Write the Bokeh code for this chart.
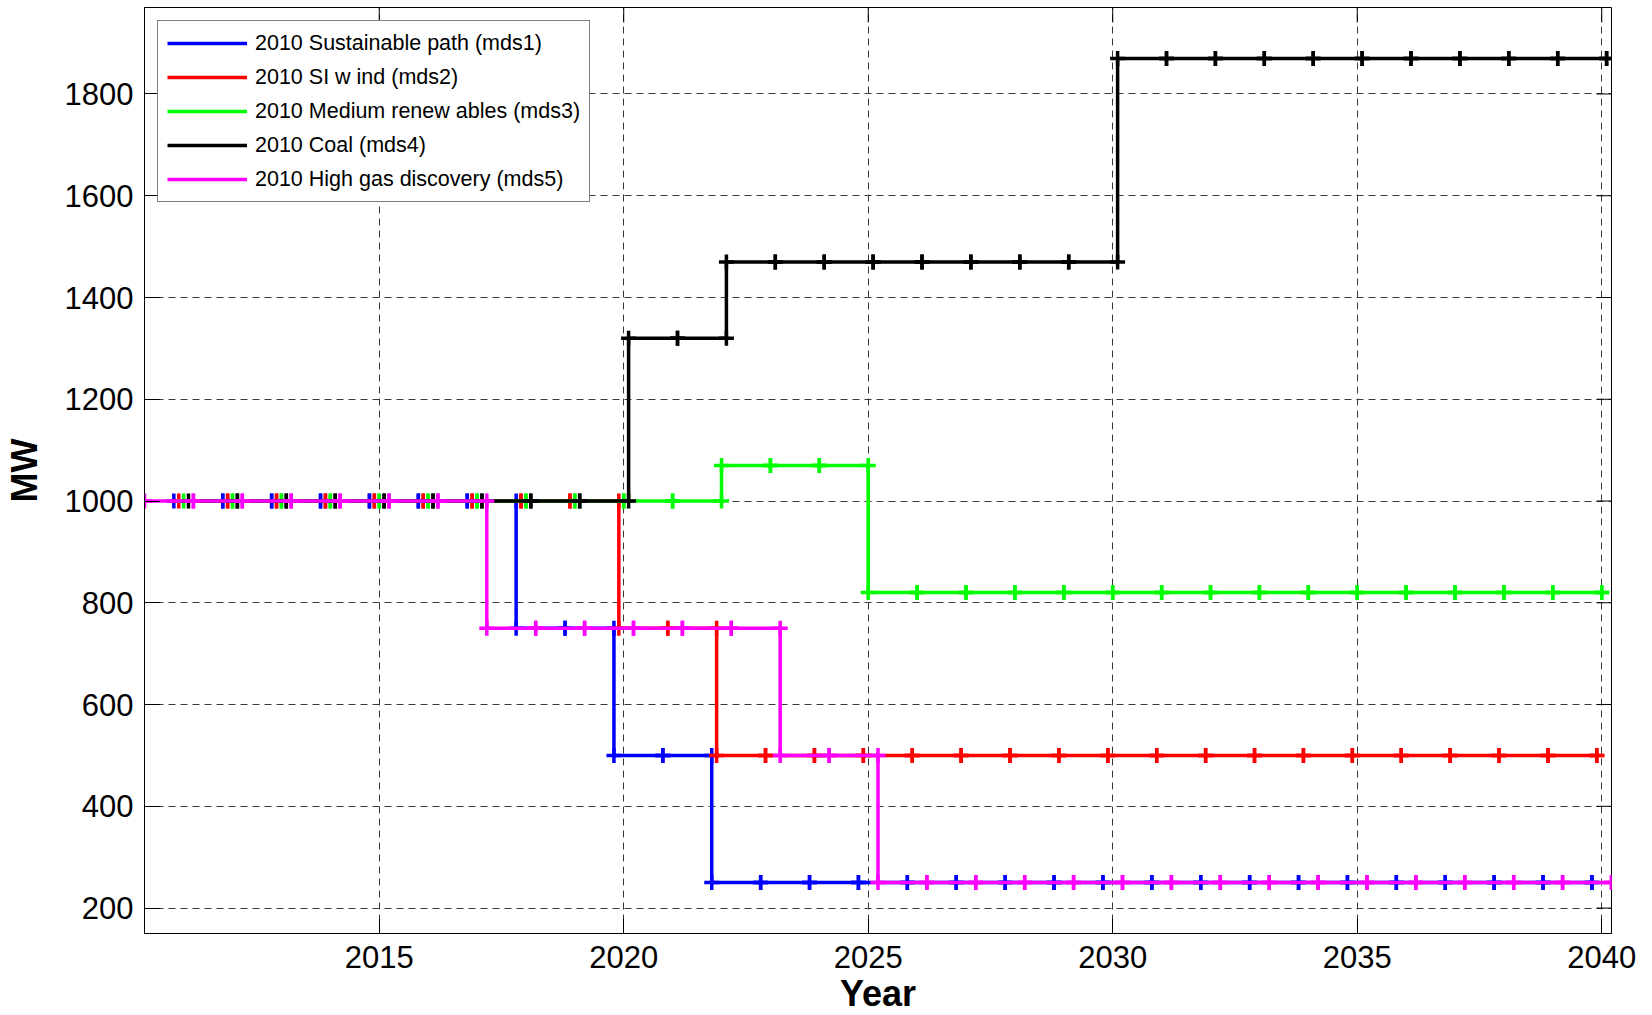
import numpy as np
from bokeh.plotting import figure
from bokeh.models import (Range1d, Legend, LegendItem, FixedTicker, ColumnDataSource)
from bokeh.embed import file_html
from bokeh.resources import INLINE

# ---------------- data ----------------
years_mds1 = [2010.8, 2011.8, 2012.8, 2013.8, 2014.8, 2015.8, 2016.8, 2017.8, 2018.8, 2019.8,
              2020.8, 2021.8, 2022.8, 2023.8, 2024.8, 2025.8, 2026.8, 2027.8, 2028.8, 2029.8,
              2030.8, 2031.8, 2032.8, 2033.8, 2034.8, 2035.8, 2036.8, 2037.8, 2038.8, 2039.8]
mw_mds1 = [1000, 1000, 1000, 1000, 1000, 1000, 1000, 750, 750, 500,
           500, 250, 250, 250, 250, 250, 250, 250, 250, 250,
           250, 250, 250, 250, 250, 250, 250, 250, 250, 250]

years_mds2 = [2010.9, 2011.9, 2012.9, 2013.9, 2014.9, 2015.9, 2016.9, 2017.9, 2018.9, 2019.9,
              2020.9, 2021.9, 2022.9, 2023.9, 2024.9, 2025.9, 2026.9, 2027.9, 2028.9, 2029.9,
              2030.9, 2031.9, 2032.9, 2033.9, 2034.9, 2035.9, 2036.9, 2037.9, 2038.9, 2039.9]
mw_mds2 = [1000, 1000, 1000, 1000, 1000, 1000, 1000, 1000, 1000, 750,
           750, 500, 500, 500, 500, 500, 500, 500, 500, 500,
           500, 500, 500, 500, 500, 500, 500, 500, 500, 500]

years_mds3 = [2011.0, 2012.0, 2013.0, 2014.0, 2015.0, 2016.0, 2017.0, 2018.0, 2019.0, 2020.0,
              2021.0, 2022.0, 2023.0, 2024.0, 2025.0, 2026.0, 2027.0, 2028.0, 2029.0, 2030.0,
              2031.0, 2032.0, 2033.0, 2034.0, 2035.0, 2036.0, 2037.0, 2038.0, 2039.0, 2040.0]
mw_mds3 = [1000, 1000, 1000, 1000, 1000, 1000, 1000, 1000, 1000, 1000,
           1000, 1070, 1070, 1070, 820, 820, 820, 820, 820, 820,
           820, 820, 820, 820, 820, 820, 820, 820, 820, 820]

years_mds4 = [2011.1, 2012.1, 2013.1, 2014.1, 2015.1, 2016.1, 2017.1, 2018.1, 2019.1, 2020.1,
              2021.1, 2022.1, 2023.1, 2024.1, 2025.1, 2026.1, 2027.1, 2028.1, 2029.1, 2030.1,
              2031.1, 2032.1, 2033.1, 2034.1, 2035.1, 2036.1, 2037.1, 2038.1, 2039.1, 2040.1]
mw_mds4 = [1000, 1000, 1000, 1000, 1000, 1000, 1000, 1000, 1000, 1320,
           1320, 1470, 1470, 1470, 1470, 1470, 1470, 1470, 1470, 1870,
           1870, 1870, 1870, 1870, 1870, 1870, 1870, 1870, 1870, 1870]

years_mds5 = [2010.2, 2011.2, 2012.2, 2013.2, 2014.2, 2015.2, 2016.2, 2017.2, 2018.2, 2019.2,
              2020.2, 2021.2, 2022.2, 2023.2, 2024.2, 2025.2, 2026.2, 2027.2, 2028.2, 2029.2,
              2030.2, 2031.2, 2032.2, 2033.2, 2034.2, 2035.2, 2036.2, 2037.2, 2038.2, 2039.2,
              2040.2]
mw_mds5 = [1000, 1000, 1000, 1000, 1000, 1000, 1000, 750, 750, 750,
           750, 750, 750, 500, 500, 250, 250, 250, 250, 250,
           250, 250, 250, 250, 250, 250, 250, 250, 250, 250,
           250]

series_labels = ["2010 Sustainable path (mds1)", "2010 SI w ind (mds2)",
                 "2010 Medium renew ables (mds3)", "2010 Coal (mds4)",
                 "2010 High gas discovery (mds5)"]
series_colors = ["#0000FF", "#FF0000", "#00FF00", "#000000", "#FF00FF"]

x_ticks = [2015, 2020, 2025, 2030, 2035, 2040]
y_ticks = [200, 400, 600, 800, 1000, 1200, 1400, 1600, 1800]
x_label = "Year"
y_label = "MW"

series = [(years_mds1, mw_mds1), (years_mds2, mw_mds2), (years_mds3, mw_mds3),
          (years_mds4, mw_mds4), (years_mds5, mw_mds5)]


def stairs(x, y):
    xx, yy = [x[0]], [y[0]]
    for i in range(1, len(x)):
        xx += [x[i], x[i]]
        yy += [y[i - 1], y[i]]
    return xx, yy


FONT = "Liberation Sans"
X0, X1 = 2010.2, 2040.2
Y0, Y1 = 150, 1970
FW, FH = 1467, 926
TICK = 15

p = figure(frame_width=FW, frame_height=FH, output_backend="svg", toolbar_location=None,
           x_range=Range1d(X0, X1), y_range=Range1d(Y0, Y1),
           min_border_left=143, min_border_right=26, min_border_top=7, min_border_bottom=74,
           background_fill_color="white", border_fill_color="white")

p.outline_line_color = "black"
p.outline_line_width = 1

xt = FixedTicker(ticks=x_ticks, minor_ticks=[])
yt = FixedTicker(ticks=y_ticks, minor_ticks=[])
p.xaxis.ticker = xt
p.yaxis.ticker = yt

for ax in list(p.xaxis) + list(p.yaxis):
    ax.major_tick_in = TICK
    ax.major_tick_out = 0
    ax.minor_tick_line_color = None
    ax.axis_line_color = "black"
    ax.major_tick_line_color = "black"
    ax.major_label_text_font = FONT
    ax.major_label_text_font_size = "31px"
    ax.major_label_text_color = "black"
    ax.axis_label_text_font = FONT
    ax.axis_label_text_font_style = "bold"
    ax.axis_label_text_font_size = "36px"
    ax.axis_label_text_color = "black"

p.xaxis.axis_label = x_label
p.yaxis.axis_label = y_label
p.xaxis.major_label_standoff = 12
p.yaxis.major_label_standoff = 11
p.xaxis.axis_label_standoff = 2
p.yaxis.axis_label_standoff = 17

for g in (p.xgrid, p.ygrid):
    g.grid_line_color = "#3a3a3a"
    g.grid_line_dash = "7 5"
    g.grid_line_width = 1
p.xgrid.ticker = xt
p.ygrid.ticker = yt

# inward box ticks on the top and right edges
dx = TICK * (X1 - X0) / FW
dy = TICK * (Y1 - Y0) / FH
p.segment(x0=x_ticks, y0=[Y1] * len(x_ticks), x1=x_ticks, y1=[Y1 - dy] * len(x_ticks),
          line_color="black", line_width=1)
p.segment(x0=[X1] * len(y_ticks), y0=y_ticks, x1=[X1 - dx] * len(y_ticks), y1=y_ticks,
          line_color="black", line_width=1)

items = []
for (xs, ys), lab, col in zip(series, series_labels, series_colors):
    xx, yy = stairs(xs, ys)
    src = ColumnDataSource(dict(x=xx, y=yy))
    lr = p.line("x", "y", source=src, line_color=col, line_width=3.5)
    p.scatter("x", "y", source=src, marker="cross", size=15, line_color=col, line_width=3.5)
    dummy = p.scatter(x=[], y=[], marker="cross", size=17, line_color=col, line_width=1)
    items.append(LegendItem(label=lab, renderers=[lr, dummy]))

legend = Legend(items=items, location="top_left")
legend.margin = 13
legend.padding = 9
legend.spacing = 8
legend.glyph_width = 80
legend.glyph_height = 26
legend.label_height = 26
legend.label_standoff = 8
legend.label_text_font = FONT
legend.label_text_font_size = "21.5px"
legend.label_text_color = "black"
legend.border_line_color = "black"
legend.border_line_width = 1
legend.background_fill_color = "white"
legend.background_fill_alpha = 1
p.add_layout(legend)

open("out.html", "w").write(file_html(p, INLINE))
